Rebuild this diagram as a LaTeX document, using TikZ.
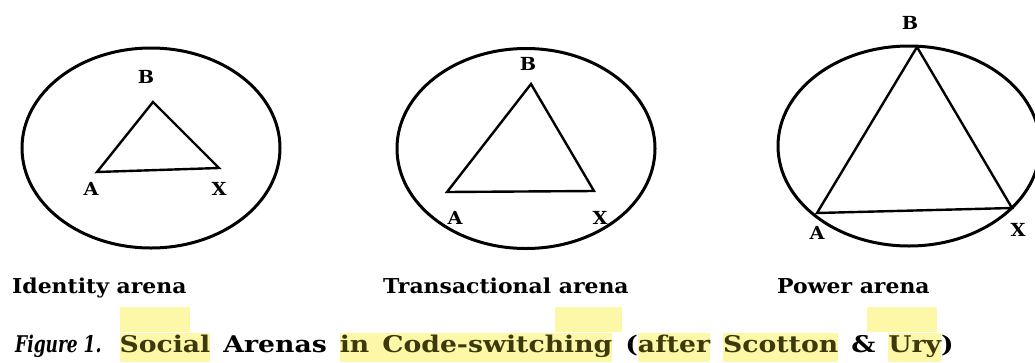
\documentclass[tikz,border=0pt]{standalone}
\usepackage{fontspec}
\setmainfont{DejaVu Serif}
\newfontfamily\labelfont{DejaVu Serif}[FakeStretch=1.07]
\newfontfamily\capfont{DejaVu Serif}[FakeStretch=1.16]
\newfontfamily\capitfont{DejaVu Serif}[FakeStretch=0.74]
\definecolor{hl}{RGB}{252,248,168}
\definecolor{hlink}{RGB}{60,58,12}
\newcommand{\hlword}[1]{{\setlength{\fboxsep}{0pt}\colorbox{hl}{\color{hlink}\rule[-10pt]{0pt}{29pt}#1}}}
\newcommand{\gap}{\hspace{13pt}}
\begin{document}
\begin{tikzpicture}[x=1pt,y=-1pt,
  arena/.style={draw=black, line width=3pt},
  side/.style={draw=black, line width=2.4pt, line join=miter},
  vlabel/.style={font=\labelfont\bfseries\fontsize{18}{18}\selectfont, inner sep=0pt},
  arenaname/.style={font=\labelfont\bfseries\fontsize{20.5}{20.5}\selectfont, inner sep=0pt, anchor=base west},
  hlbox/.style={fill=hl, draw=none, inner sep=0pt, anchor=north west, minimum height=25pt},
  captext/.style={font=\capfont\bfseries\fontsize{23}{23}\selectfont, inner sep=0pt, anchor=base west}
]
\useasboundingbox (0,0) rectangle (1035,362);
\fill[white] (0,0) rectangle (1035,362);

% --- Identity arena ---
\draw[arena] (151,148) ellipse [x radius=129pt, y radius=100pt];
\coordinate (B1) at (153,102);
\coordinate (A1) at (97,172);
\coordinate (X1) at (219,168);
\draw[side] (A1) -- (B1) -- (X1) -- cycle;
\node[vlabel] (lb1) at (146,77) {B};
\node[vlabel] (la1) at (91,189) {A};
\node[vlabel] (lx1) at (219,189) {X};

% --- Transactional arena ---
\draw[arena] (526,148.5) ellipse [x radius=129pt, y radius=100pt];
\coordinate (B2) at (531,84);
\coordinate (A2) at (447,192);
\coordinate (X2) at (594,191);
\draw[side] (A2) -- (B2) -- (X2) -- cycle;
\node[vlabel] (lb2) at (528,64) {B};
\node[vlabel] (la2) at (455,218) {A};
\node[vlabel] (lx2) at (600,218) {X};

% --- Power arena ---
\draw[arena] (909,146) ellipse [x radius=131pt, y radius=100pt];
\coordinate (B3) at (917,47);
\coordinate (A3) at (817,213);
\coordinate (X3) at (1012,208);
\draw[side] (A3) -- (B3) -- (X3) -- cycle;
\node[vlabel] (lb3) at (910,23) {B};
\node[vlabel] (la3) at (817,233) {A};
\node[vlabel] (lx3) at (1018,230) {X};

% --- arena names ---
\node[arenaname] (n1) at (12,293) {Identity arena};
\node[arenaname] (n2) at (383,293) {Transactional arena};
\node[arenaname] (n3) at (777,293) {Power arena};

% --- empty highlight marks ---
\node[hlbox, minimum width=70pt] (m1) at (120,307) {};
\node[hlbox, minimum width=67pt] (m2) at (555,307) {};
\node[hlbox, minimum width=70pt] (m3) at (867,307) {};

% --- caption ---
\node[captext] (cap) at (15,352) {{\capitfont\bfseries\itshape\fontsize{23}{23}\selectfont Figure 1.}\hspace{18pt}\hlword{Social}\gap Arenas\gap\hlword{in\gap Code-switching}\gap(\hlword{after}\gap\hlword{Scotton}\gap\&\gap\hlword{Ury})};
\end{tikzpicture}
\end{document}
